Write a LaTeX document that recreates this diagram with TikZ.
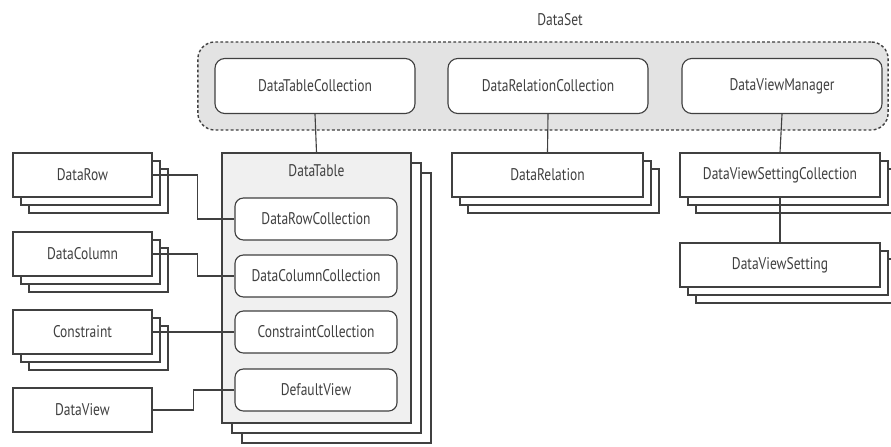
\documentclass[tikz,border=0pt]{standalone}
\usepackage{fontspec}
\setmainfont[FakeStretch=0.8]{PT Sans}
\usetikzlibrary{shadows}

\begin{document}
\begin{tikzpicture}[x=0.025cm, y=-0.025cm, line width=0.8pt,
    font=\fontsize{12}{14}\selectfont, text=black!75, draw=black!75,
    every node/.style={draw=black!75},
    plain/.style={draw=none},
    collbox/.style={draw, fill=white, rounded corners=7pt, minimum width=5cm, minimum height=1.375cm},
    innerbox/.style={draw, fill=white, rounded corners=6pt, minimum width=4.05cm, minimum height=1.05cm},
    single/.style={draw, fill=white, minimum width=3.475cm, minimum height=1.1cm},
    stacked/.style={draw, fill=white,
        general shadow={shadow xshift=0.4cm, shadow yshift=-0.4cm, draw=black!75, fill=white},
        general shadow={shadow xshift=0.2cm, shadow yshift=-0.2cm, draw=black!75, fill=white}},
    bigstack/.style={draw, fill=black!6,
        general shadow={shadow xshift=0.5cm, shadow yshift=-0.5cm, draw=black!75, fill=white},
        general shadow={shadow xshift=0.25cm, shadow yshift=-0.25cm, draw=black!75, fill=white}},
    link/.style={draw=black!75, line width=0.8pt}]

    \useasboundingbox (0,0) rectangle (891,446);

    % DataSet
    \node[draw=black!75, fill=black!11, dash pattern=on 2pt off 1.6pt, line width=1pt,
          rounded corners=12pt, minimum width=17.25cm, minimum height=2.2cm] (dataset) at (543,86) {};
    \node[plain] (dslbl) at (560,20) {DataSet};
    \node[collbox] (tblcoll) at (315,86) {DataTableCollection};
    \node[collbox] (relcoll) at (548,86) {DataRelationCollection};
    \node[collbox] (viewmgr) at (782,86) {DataViewManager};

    % DataTable + collections
    \node[bigstack, minimum width=4.725cm, minimum height=6.75cm] (table) at (316.5,288) {};
    \node[plain, below=5pt] (tbllbl) at (table.north) {DataTable};
    \node[innerbox] (rowcoll) at (316,219) {DataRowCollection};
    \node[innerbox] (colcoll) at (316,276) {DataColumnCollection};
    \node[innerbox] (concoll) at (316,332) {ConstraintCollection};
    \node[innerbox] (defview) at (316,390) {DefaultView};

    % Left side
    \node[single, stacked] (row) at (82.5,175) {DataRow};
    \node[single, stacked] (col) at (82.5,254) {DataColumn};
    \node[single, stacked] (con) at (82.5,332) {Constraint};
    \node[single] (view) at (82.5,410) {DataView};

    % Right side
    \node[stacked, minimum width=4.775cm, minimum height=1.1cm] (rel) at (547.5,175) {DataRelation};
    \node[stacked, minimum width=5cm, minimum height=1.1cm] (vsetcoll) at (780,175) {DataViewSettingCollection};
    \node[stacked, minimum width=5cm, minimum height=1.1cm] (vset) at (780,265) {DataViewSetting};

    % Links
    \draw[link] (tblcoll.south) -- (table.north);
    \draw[link] (relcoll.south) -- (rel.north);
    \draw[link] (viewmgr.south) -- (vsetcoll.north);
    \draw[link] (vsetcoll.south) -- (vset.north);
    \draw[link] (row.east) -- +(45,0) |- (rowcoll.west);
    \draw[link] (col.east) -- +(45,0) |- (colcoll.west);
    \draw[link] (con.east) -- (concoll.west);
    \draw[link] (view.east) -- +(41,0) |- (defview.west);

\end{tikzpicture}
\end{document}
